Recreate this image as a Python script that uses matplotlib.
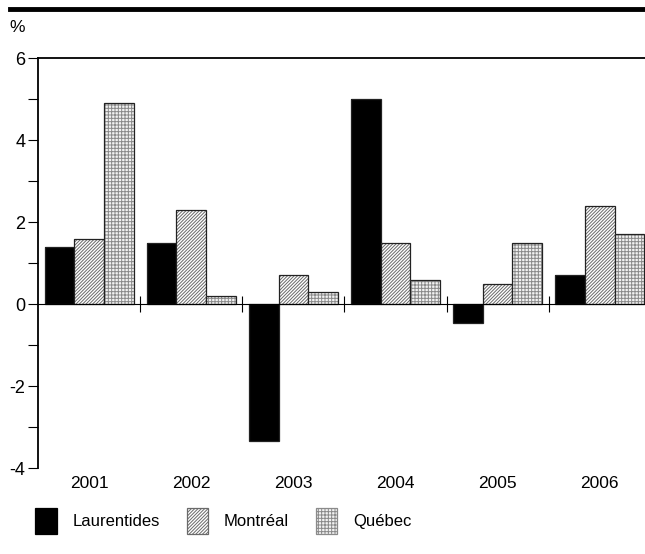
import numpy as np
from matplotlib import pyplot as plt
from matplotlib.patches import Patch
from matplotlib.ticker import FixedLocator

plt.rcParams["font.family"] = ["Liberation Sans", "DejaVu Sans"]
plt.rcParams["hatch.linewidth"] = 0.7

years = ["2001", "2002", "2003", "2004", "2005", "2006"]
laurentides = [1.4, 1.5, -3.35, 5.0, -0.45, 0.7]
montreal = [1.6, 2.3, 0.7, 1.5, 0.5, 2.4]
quebec = [4.9, 0.2, 0.3, 0.6, 1.5, 1.7]
series_names = ["Laurentides", "Montréal", "Québec"]

fig = plt.figure(figsize=(6.45, 5.54), dpi=100)
ax = fig.add_axes([0.059, 0.155, 0.95, 0.74])

x = np.arange(len(years))
w = 0.29
# (face, hatch colour, hatch)
styles = [
    ("black", "black", None),
    ("white", "#6a6a6a", "//////////"),
    ("#f2f2f2", "#8a8a8a", "+++++"),
]
for i, vals in enumerate([laurentides, montreal, quebec]):
    face, hc, hatch = styles[i]
    pos = x + (i - 1) * w
    ax.bar(pos, vals, w, color=face, edgecolor=hc, hatch=hatch, linewidth=0)
    ax.bar(pos, vals, w, fill=False, edgecolor="#222222", linewidth=0.9)

ax.set_xlim(-0.5, 5.5)
ax.set_ylim(-4, 6)

ax.spines["right"].set_visible(False)
ax.spines["bottom"].set_position(("data", 0))
ax.spines["left"].set_linewidth(1.3)
ax.spines["top"].set_linewidth(1.3)
ax.spines["bottom"].set_linewidth(0.8)

ax.set_yticks([-4, -2, 0, 2, 4, 6])
ax.set_yticklabels(["-4", "-2", "0", "2", "4", "6"])
ax.yaxis.set_minor_locator(FixedLocator([-3, -1, 1, 3, 5]))
ax.tick_params(axis="y", which="both", direction="out", length=7, width=0.8,
               labelsize=13, pad=2)

ax.set_xticks(x[:-1] + 0.5)
ax.set_xticklabels([])
ax.tick_params(axis="x", direction="inout", length=12, width=0.8)

for xi, yr in zip(x, years):
    ax.text(xi, -0.02, yr, transform=ax.get_xaxis_transform(),
            ha="center", va="top", fontsize=12.5)

fig.text(0.014, 0.951, "%", fontsize=12.5, ha="left", va="center")
fig.add_artist(plt.Line2D([0.015, 1.0], [0.983, 0.983], color="black",
                          linewidth=3.5, transform=fig.transFigure))

handles = [Patch(facecolor=s[0], edgecolor=s[1], hatch=s[2],
                 linewidth=0.9) for s in styles]
fig.legend(handles, series_names, loc="center left", ncol=3, frameon=False,
           bbox_to_anchor=(0.031, 0.06), fontsize=12, handlelength=1.3,
           handleheight=2.0, handletextpad=0.95, columnspacing=1.6)

plt.savefig("out.png", dpi=100)
